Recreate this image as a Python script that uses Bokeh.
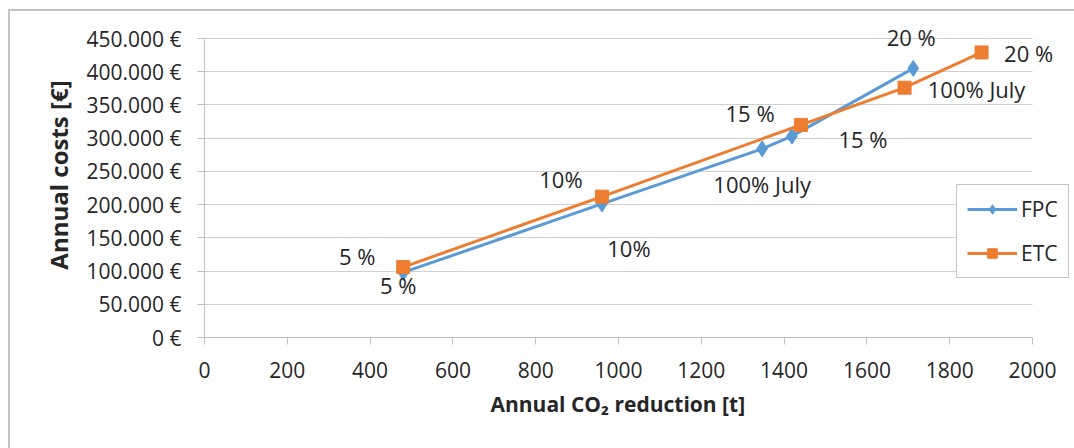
from bokeh.plotting import figure
from bokeh.models import Range1d, FixedTicker, Legend, LegendItem, ColumnDataSource, Title
from bokeh.core.properties import value
from bokeh.embed import file_html
from bokeh.resources import INLINE

# Annual CO2 reduction [t] and annual costs [EUR] per scenario
fpc_x = [480, 960, 1347, 1419, 1712]
fpc_y = [98000, 201000, 284000, 303000, 405000]
fpc_labels = ["5 %", "10%", "100% July", "15 %", "20 %"]

etc_x = [480, 960, 1441, 1691, 1877]
etc_y = [106000, 212000, 320000, 376000, 429000]
etc_labels = ["5 %", "10%", "15 %", "100% July", "20 %"]

x_ticks = [0, 200, 400, 600, 800, 1000, 1200, 1400, 1600, 1800, 2000]
y_ticks = [0, 50000, 100000, 150000, 200000, 250000, 300000, 350000, 400000, 450000]
y_tick_labels = ["0 €", "50.000 €", "100.000 €", "150.000 €", "200.000 €",
                 "250.000 €", "300.000 €", "350.000 €", "400.000 €", "450.000 €"]

# label placement (pixel offsets from each point)
fpc_dx = [-5, 27, 0, 71, -2]
fpc_dy = [13, 44, 35, 3, -31]
etc_dx = [-46, -41, -51, 72, 47]
etc_dy = [-11, -18, -12, 1, 1]

BLUE = "#5b9bd5"
ORANGE = "#ed7d31"
FONT = "Open Sans"
TXT = "#262626"

# axis extent in pixels; the frame is larger so labels and legend are not clipped
X_MAX, Y_MAX = 2000, 450000
AX_W, AX_H = 828, 299
FRAME_W, FRAME_H = 870, 325

p = figure(width=1064, height=437, frame_width=FRAME_W, frame_height=FRAME_H,
           min_border_left=194, min_border_right=0, min_border_top=1, min_border_bottom=111,
           x_range=Range1d(0, X_MAX * FRAME_W / AX_W),
           y_range=Range1d(0, Y_MAX * FRAME_H / AX_H),
           output_backend="svg", toolbar_location=None, tools="")
p.margin = (9, 0, 0, 8)
p.styles = {"border-top": "2px solid #c4c4c4", "border-left": "2px solid #c4c4c4"}

p.outline_line_color = None
p.background_fill_color = "white"
p.border_fill_color = "white"

# axes
p.xaxis.ticker = FixedTicker(ticks=x_ticks)
p.yaxis.ticker = FixedTicker(ticks=y_ticks)
p.xaxis.bounds = (0, X_MAX)
p.yaxis.bounds = (0, Y_MAX)
p.yaxis.major_label_overrides = {t: l for t, l in zip(y_ticks, y_tick_labels)}
for ax in (p.xaxis, p.yaxis):
    ax.axis_line_color = "#bfbfbf"
    ax.major_tick_line_color = "#bfbfbf"
    ax.major_tick_in = 0
    ax.major_tick_out = 7
    ax.minor_tick_line_color = None
    ax.major_label_text_font = FONT
    ax.major_label_text_font_size = "21px"
    ax.major_label_text_color = TXT
p.xaxis.major_label_standoff = 17
p.yaxis.major_label_standoff = 16

# axis titles, placed over the axis extent rather than the whole frame
p.add_layout(Title(text="Annual CO₂ reduction [t]", align="left",
                   offset=286, standoff=15,
                   text_font=FONT, text_font_size="21px", text_font_style="bold",
                   text_color=TXT), "below")
p.add_layout(Title(text="Annual costs [€]", align="center",
                   offset=-(FRAME_H - AX_H) / 2, standoff=18,
                   text_font=FONT, text_font_size="24px", text_font_style="bold",
                   text_color=TXT), "left")

p.xgrid.grid_line_color = None
p.ygrid.grid_line_color = "#d0d0d0"
p.ygrid.grid_line_width = 1
p.ygrid.bounds = (0, Y_MAX)
p.ygrid.cross_bounds = (0, X_MAX)

fpc_src = ColumnDataSource(dict(x=fpc_x, y=fpc_y, t=fpc_labels, dx=fpc_dx, dy=fpc_dy))
etc_src = ColumnDataSource(dict(x=etc_x, y=etc_y, t=etc_labels, dx=etc_dx, dy=etc_dy))

fl = p.line("x", "y", source=fpc_src, line_color=BLUE, line_width=3)
fm = p.scatter("x", "y", source=fpc_src, marker="diamond", size=16,
               fill_color=BLUE, line_color=BLUE)
el = p.line("x", "y", source=etc_src, line_color=ORANGE, line_width=3)
em = p.scatter("x", "y", source=etc_src, marker="square", size=13,
               fill_color=ORANGE, line_color=ORANGE)

for src in (fpc_src, etc_src):
    p.text("x", "y", text="t", source=src, x_offset="dx", y_offset="dy",
           text_align="center", text_baseline="middle",
           text_font=value(FONT), text_font_size="22px", text_color=TXT)

legend = Legend(items=[LegendItem(label="FPC", renderers=[fl, fm]),
                       LegendItem(label="ETC", renderers=[el, em])],
                location=(752, 59), orientation="vertical",
                label_text_font=FONT, label_text_font_size="21px", label_text_color=TXT,
                glyph_width=50, glyph_height=24, label_height=24, spacing=16, padding=10,
                label_standoff=4, margin=0,
                border_line_color="#8c8c8c", border_line_width=1.5,
                background_fill_color="white", background_fill_alpha=1)
p.add_layout(legend, "center")

open("out.html", "w").write(file_html(p, INLINE))
